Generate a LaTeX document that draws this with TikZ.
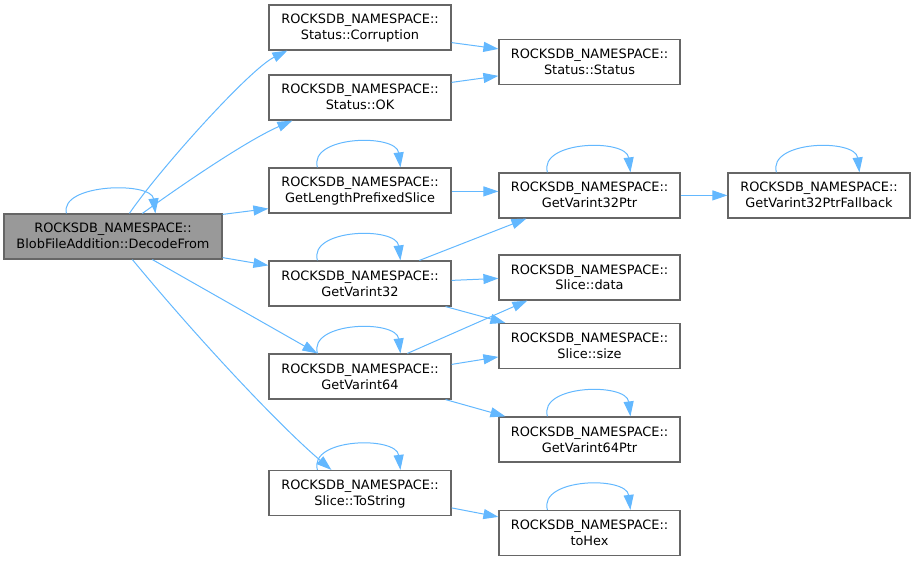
\documentclass[tikz,border=0pt]{standalone}
\usepackage{fontspec}
\setmainfont{DejaVu Sans}
\usetikzlibrary{arrows.meta,calc}
\definecolor{edgec}{HTML}{63B8FF}
\definecolor{boxb}{HTML}{666666}
\definecolor{mainf}{HTML}{999999}
\newcommand\twoline[2]{\rule{0pt}{12pt}#1\\#2\rule[-3pt]{0pt}{3pt}}
\begin{document}
\begin{tikzpicture}[x=1pt,y=-1pt,
  fn/.style={draw=boxb, line width=1.2pt, fill=white, minimum width=182pt, minimum height=45pt,
    inner sep=0pt, align=center, font=\fontsize{12.9}{16}\selectfont},
  edge/.style={draw=edgec, line width=1pt, -{Triangle[length=15pt,width=10pt]}},
]
\useasboundingbox (0,0) rectangle (915,561);

% nodes
\node[fn, fill=mainf, minimum width=218pt] (main) at (113,236.5) {\twoline{ROCKSDB\_NAMESPACE::}{BlobFileAddition::DecodeFrom}};
\node[fn] (corr)  at (360,27.5)  {\twoline{ROCKSDB\_NAMESPACE::}{Status::Corruption}};
\node[fn] (ok)    at (360,97.5)  {\twoline{ROCKSDB\_NAMESPACE::}{Status::OK}};
\node[fn] (glps)  at (360,190.5) {\twoline{ROCKSDB\_NAMESPACE::}{GetLengthPrefixedSlice}};
\node[fn] (gvtt)  at (360,283.5) {\twoline{ROCKSDB\_NAMESPACE::}{GetVarint32}};
\node[fn] (gvsf)  at (360,376.5) {\twoline{ROCKSDB\_NAMESPACE::}{GetVarint64}};
\node[fn] (tostr) at (360,493)   {\twoline{ROCKSDB\_NAMESPACE::}{Slice::ToString}};
\node[fn, minimum width=181pt] (status) at (589.5,62)    {\twoline{ROCKSDB\_NAMESPACE::}{Status::Status}};
\node[fn, minimum width=181pt] (gvttp)  at (589.5,195.5) {\twoline{ROCKSDB\_NAMESPACE::}{GetVarint32Ptr}};
\node[fn, minimum width=181pt] (data)   at (589.5,277.5) {\twoline{ROCKSDB\_NAMESPACE::}{Slice::data}};
\node[fn, minimum width=181pt] (size)   at (589.5,346)   {\twoline{ROCKSDB\_NAMESPACE::}{Slice::size}};
\node[fn, minimum width=181pt] (gvsfp)  at (589.5,439.5) {\twoline{ROCKSDB\_NAMESPACE::}{GetVarint64Ptr}};
\node[fn, minimum width=181pt] (tohex)  at (589.5,533)   {\twoline{ROCKSDB\_NAMESPACE::}{toHex}};
\node[fn] (fb) at (819,195.5) {\twoline{ROCKSDB\_NAMESPACE::}{GetVarint32PtrFallback}};

% self loops
\draw[edge] ($(main.north west)+(63,0)$) .. controls ($(main.north west)+(56,-30)$) and ($(main.north west)+(148,-32)$) .. ($(main.north west)+(152,0)$);
\foreach \n in {glps,gvtt,gvsf,tostr,gvttp,gvsfp,tohex,fb}{
  \draw[edge] ($(\n.north west)+(49,0)$) .. controls ($(\n.north west)+(40,-32)$) and ($(\n.north west)+(128,-34)$) .. ($(\n.north west)+(132,0)$);
}

% edges from main
\draw[edge] ($(main.north west)+(126,0)$) .. controls ($(main.north west)+(156,-44)$) and ($(main.north west)+(246,-144)$) .. ($(corr.south west)+(19,0)$);
\draw[edge] ($(main.north west)+(139,0)$) .. controls ($(main.north west)+(186,-34)$) and ($(main.north west)+(246,-74)$) .. ($(ok.south west)+(24,0)$);
\draw[edge] ($(main.north east)+(0,1)$) -- ($(glps.south west)+(0,-5)$);
\draw[edge] ($(main.south east)+(0,-2)$) -- ($(gvtt.north west)+(0,5)$);
\draw[edge] ($(main.south west)+(149,0)$) -- ($(gvsf.north west)+(49,0)$);
\draw[edge] ($(main.south west)+(129,0)$) .. controls ($(main.south west)+(196,81)$) and ($(main.south west)+(276,166)$) .. ($(tostr.north west)+(63,0)$);

% second level
\draw[edge] ($(corr.south east)+(0,-8)$) -- ($(status.north west)+(0,10)$);
\draw[edge] ($(ok.north east)+(0,8)$) -- ($(status.north west)+(0,37)$);
\draw[edge] ($(glps.north east)+(0,24)$) -- ($(gvttp.north west)+(0,19)$);
\draw[edge] ($(gvtt.north west)+(151,0)$) -- ($(gvttp.south west)+(28,0)$);
\draw[edge] ($(gvtt.north east)+(0,20)$) -- ($(data.north west)+(0,24)$);
\draw[edge] ($(gvtt.south east)+(-6,0)$) -- ($(size.north west)+(7,0)$);
\draw[edge] ($(gvsf.north west)+(139,0)$) -- ($(data.south west)+(29,0)$);
\draw[edge] ($(gvsf.north east)+(0,11)$) -- ($(size.north west)+(0,34)$);
\draw[edge] ($(gvsf.south east)+(-6,0)$) -- ($(gvsfp.north west)+(7,0)$);
\draw[edge] ($(tostr.north east)+(0,38)$) -- ($(tohex.north west)+(0,7)$);
\draw[edge] ($(gvttp.north east)+(0,23)$) -- ($(fb.north west)+(0,23)$);
\end{tikzpicture}
\end{document}
